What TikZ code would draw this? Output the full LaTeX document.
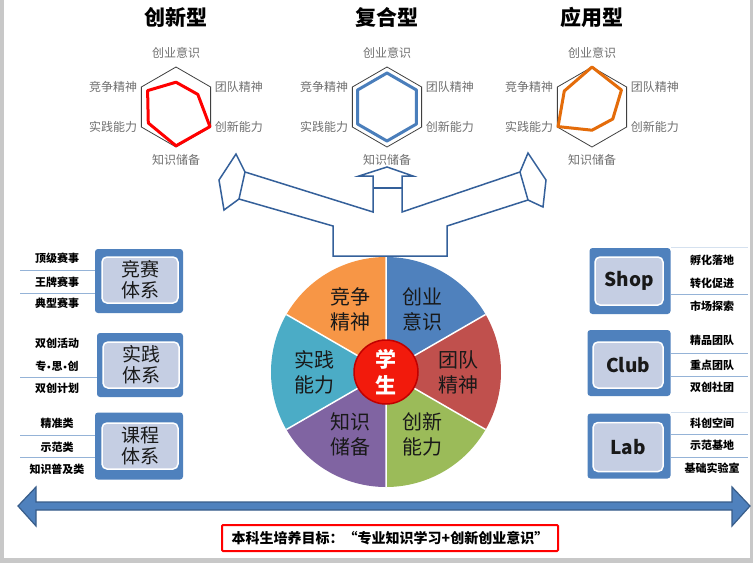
\documentclass[tikz,border=0pt]{standalone}
\usepackage{fontspec}
\setmainfont{Noto Sans CJK SC}
\newfontfamily\latinfont{DejaVu Sans}
\usetikzlibrary{positioning,calc,shapes.geometric}
\definecolor{boxblue}{HTML}{4F81BD}
\definecolor{boxlight}{HTML}{C5CEE3}
\definecolor{sepblue}{HTML}{95B3D7}
\definecolor{arrowblue}{HTML}{34609A}
\definecolor{arrowdark}{HTML}{385D8A}
\definecolor{lblgray}{HTML}{707070}
\definecolor{hexgray}{HTML}{404040}
\definecolor{radblue}{HTML}{4A7EBB}
\definecolor{radorange}{HTML}{E46C0A}
\definecolor{piered}{HTML}{C0504D}
\definecolor{piegreen}{HTML}{9BBB59}
\definecolor{piepurple}{HTML}{8064A2}
\definecolor{pieteal}{HTML}{4BACC6}
\definecolor{pieorange}{HTML}{F79646}
\definecolor{stured}{HTML}{F21A0C}
\definecolor{stuborder}{HTML}{C00000}
\definecolor{framegray}{HTML}{C8C8C8}

\begin{document}
\begin{tikzpicture}[x=1pt,y=-1pt,
  title/.style={font=\fontsize{21}{24}\selectfont\bfseries},
  hexagon/.style={regular polygon, regular polygon sides=6, shape border rotate=30, minimum size=80pt, inner sep=0pt, outer sep=0pt, draw=hexgray, line width=0.8pt},
  axislbl/.style={text=lblgray, font=\fontsize{12}{14}\selectfont, inner sep=1pt},
  radarline/.style={line width=3pt, line join=round},
  sectorlbl/.style={align=center, text=black!90, font=\fontsize{20}{25}\selectfont},
  outerbox/.style={fill=boxblue, rounded corners=3pt, inner sep=0pt, minimum width=88pt, minimum height=64pt},
  innerbox/.style={fill=boxlight, draw=white, line width=1.5pt, rounded corners=5pt, inner sep=0pt, minimum width=76pt, minimum height=46pt, align=center, text=black!90},
  item/.style={font=\fontsize{11}{13}\selectfont\bfseries, inner sep=1pt},
  sepline/.style={draw=sepblue, line width=1pt},
  outline/.style={draw=arrowblue, line width=1.5pt, line join=miter}
]
\useasboundingbox (0,0) rectangle (753,563);
\fill[white] (0,0) rectangle (753,563);
\fill[framegray] (0,0) rectangle (4,563);
\fill[framegray] (750,0) rectangle (753,563);
\fill[framegray] (0,558) rectangle (753,563);

\node[title] (tA) at (176,17) {创新型};
\node[title] (tB) at (387,17) {复合型};
\node[title] (tC) at (592,17) {应用型};

\node[hexagon] (hA) at (176,107) {};
\node[axislbl, above=7pt of hA.90] (hA1) {创业意识};
\node[axislbl, right=3pt of hA.30] (hA2) {团队精神};
\node[axislbl, right=3pt of hA.-30] (hA3) {创新能力};
\node[axislbl, below=6pt of hA.-90] (hA4) {知识储备};
\node[axislbl, left=3pt of hA.-150] (hA5) {实践能力};
\node[axislbl, left=3pt of hA.150] (hA6) {竞争精神};
\draw[radarline, red] ($(hA.center)!0.62!(hA.90)$) -- ($(hA.center)!0.63!(hA.30)$) -- ($(hA.center)!0.98!(hA.-30)$) -- ($(hA.center)!0.97!(hA.-90)$) -- ($(hA.center)!0.8!(hA.-150)$) -- ($(hA.center)!0.82!(hA.150)$) -- cycle;

\node[hexagon] (hB) at (387,107) {};
\node[axislbl, above=7pt of hB.90] (hB1) {创业意识};
\node[axislbl, right=3pt of hB.30] (hB2) {团队精神};
\node[axislbl, right=3pt of hB.-30] (hB3) {创新能力};
\node[axislbl, below=6pt of hB.-90] (hB4) {知识储备};
\node[axislbl, left=3pt of hB.-150] (hB5) {实践能力};
\node[axislbl, left=3pt of hB.150] (hB6) {竞争精神};
\draw[radarline, radblue] ($(hB.center)!0.85!(hB.90)$) -- ($(hB.center)!0.85!(hB.30)$) -- ($(hB.center)!0.85!(hB.-30)$) -- ($(hB.center)!0.85!(hB.-90)$) -- ($(hB.center)!0.85!(hB.-150)$) -- ($(hB.center)!0.85!(hB.150)$) -- cycle;

\node[hexagon] (hC) at (592,107) {};
\node[axislbl, above=7pt of hC.90] (hC1) {创业意识};
\node[axislbl, right=3pt of hC.30] (hC2) {团队精神};
\node[axislbl, right=3pt of hC.-30] (hC3) {创新能力};
\node[axislbl, below=6pt of hC.-90] (hC4) {知识储备};
\node[axislbl, left=3pt of hC.-150] (hC5) {实践能力};
\node[axislbl, left=3pt of hC.150] (hC6) {竞争精神};
\draw[radarline, radorange] ($(hC.center)!1!(hC.90)$) -- ($(hC.center)!0.85!(hC.30)$) -- ($(hC.center)!0.6!(hC.-30)$) -- ($(hC.center)!0.58!(hC.-90)$) -- ($(hC.center)!0.98!(hC.-150)$) -- ($(hC.center)!0.8!(hC.150)$) -- cycle;

\draw[outline, fill=white] (333,256) -- (447,256) -- (447,226) -- (528,200) -- (543,207) -- (546,180) -- (528,153) -- (520,172) -- (402,212) -- (402,176) -- (413,176) -- (387,167) -- (359,176) -- (373,176) -- (373,212) -- (245,172) -- (236,154) -- (219,180) -- (224,210) -- (239,199) -- (333,226) -- cycle;
\draw[outline] (245,172) -- (239,199);
\draw[outline] (520,172) -- (528,200);
\draw[outline] (373,188) -- (402,188);

\begin{scope}[shift={(386,372)}, y=1pt]
\fill[boxblue] (0,0) -- (90:115) arc[start angle=90, end angle=30, radius=115] -- cycle;
\fill[piered] (0,0) -- (30:115) arc[start angle=30, end angle=-30, radius=115] -- cycle;
\fill[piegreen] (0,0) -- (-30:115) arc[start angle=-30, end angle=-90, radius=115] -- cycle;
\fill[piepurple] (0,0) -- (-90:115) arc[start angle=-90, end angle=-150, radius=115] -- cycle;
\fill[pieteal] (0,0) -- (-150:115) arc[start angle=-150, end angle=-210, radius=115] -- cycle;
\fill[pieorange] (0,0) -- (150:115) arc[start angle=150, end angle=90, radius=115] -- cycle;
\draw[white, line width=1.5pt] (0,0) -- (90:115) (0,0) -- (30:115) (0,0) -- (-30:115) (0,0) -- (-90:115) (0,0) -- (-150:115) (0,0) -- (150:115);
\node[sectorlbl] (sA) at (60:72) {创业\\意识};
\node[sectorlbl] (sB) at (0:72) {团队\\精神};
\node[sectorlbl] (sC) at (-60:72) {创新\\能力};
\node[sectorlbl] (sD) at (-120:72) {知识\\储备};
\node[sectorlbl] (sE) at (180:72) {实践\\能力};
\node[sectorlbl] (sF) at (120:72) {竞争\\精神};
\node[circle, fill=stured, draw=stuborder, line width=1.5pt, minimum size=64pt, inner sep=0pt, text=white, align=center, font=\fontsize{21}{26}\selectfont\bfseries] (stu) at (0,0) {学\\生};
\end{scope}

\node[outerbox] (compO) at (139,281) {};
\node[innerbox, font=\fontsize{19}{21}\selectfont] (comp) at (140,280) {竞赛\\体系};
\node[item] (comp1) at (57,258) {顶级赛事};
\node[item] (comp2) at (57,282) {王牌赛事};
\node[item] (comp3) at (57,303) {典型赛事};
\draw[sepline] (20,270) -- (95,270);
\draw[sepline] (20,293) -- (95,293);

\node[outerbox, minimum width=86pt] (pracO) at (140,365) {};
\node[innerbox, font=\fontsize{19}{21}\selectfont] (prac) at (141,365) {实践\\体系};
\node[item] (prac1) at (57,343) {双创活动};
\node[item] (prac2) at (57,366) {专{\latinfont\fontsize{8}{10}\selectfont•}思{\latinfont\fontsize{8}{10}\selectfont•}创};
\node[item] (prac3) at (57,388) {双创计划};
\draw[sepline] (20,377) -- (97,377);

\node[outerbox, minimum height=67pt] (courO) at (139,446) {};
\node[innerbox, font=\fontsize{19}{21}\selectfont] (cour) at (140,446) {课程\\体系};
\node[item] (cour1) at (57,423) {精准类};
\node[item] (cour2) at (57,447) {示范类};
\node[item] (cour3) at (57,469) {知识普及类};
\draw[sepline] (20,435) -- (95,435);
\draw[sepline] (20,457) -- (95,457);

\node[outerbox, minimum width=81pt, minimum height=66pt] (shopO) at (630,281) {};
\node[innerbox, minimum width=68pt, minimum height=48pt, font=\fontsize{19}{21}\selectfont\bfseries] (shop) at (629,281) {Shop};
\node[item] (shop1) at (712,260) {孵化落地};
\node[item] (shop2) at (712,283) {转化促进};
\node[item] (shop3) at (712,306) {市场探索};
\draw[sepline, draw=sepblue!40] (671,247) -- (748,247);
\draw[sepline] (671,294) -- (748,294);

\node[outerbox, minimum width=83pt, minimum height=66pt] (clubO) at (629,363) {};
\node[innerbox, minimum width=70pt, minimum height=46pt, font=\fontsize{19}{21}\selectfont\bfseries] (club) at (628,365) {Club};
\node[item] (club1) at (712,340) {精品团队};
\node[item] (club2) at (712,365) {重点团队};
\node[item] (club3) at (712,387) {双创社团};
\draw[sepline] (671,353) -- (748,353);
\draw[sepline] (671,376) -- (748,376);

\node[outerbox, minimum width=83pt, minimum height=65pt] (labO) at (629,446) {};
\node[innerbox, minimum width=70pt, minimum height=49pt, font=\fontsize{19}{21}\selectfont\bfseries] (lab) at (628,447) {Lab};
\node[item] (lab1) at (712,423) {科创空间};
\node[item] (lab2) at (712,445) {示范基地};
\node[item] (lab3) at (712,468) {基础实验室};
\draw[sepline, draw=sepblue!40] (671,412) -- (748,412);
\draw[sepline] (671,434) -- (748,434);
\draw[sepline] (671,457) -- (748,457);

\draw[fill=boxblue, draw=arrowdark, line width=1.2pt, line join=miter] (18,506) -- (36,487) -- (36,502) -- (732,502) -- (732,487) -- (750,506) -- (732,526) -- (732,510) -- (36,510) -- (36,526) -- cycle;

\node[draw=red, line width=2pt, rounded corners=1pt, minimum width=336pt, minimum height=26pt, font=\fontsize{14}{16}\selectfont\bfseries] (goal) at (390,538) {本科生培养目标：“专业知识学习+创新创业意识”};
\end{tikzpicture}
\end{document}
